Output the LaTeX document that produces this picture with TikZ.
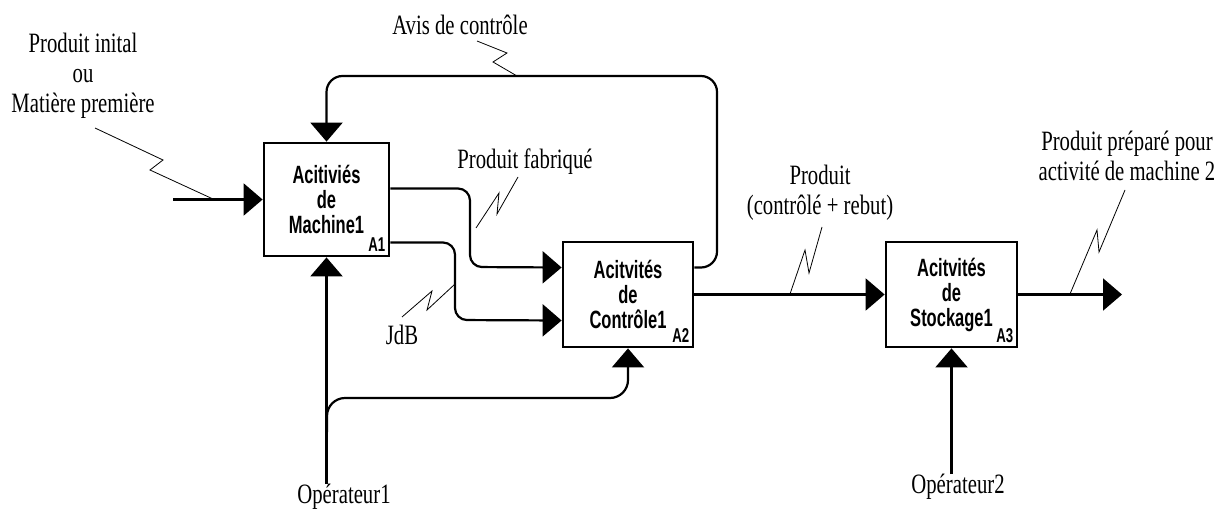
\documentclass[tikz,border=0pt]{standalone}
\usepackage{fontspec}
\setmainfont{Liberation Serif}[FakeStretch=0.74]
\newfontfamily\boxfont{Liberation Sans}[FakeStretch=0.66]
\usepackage{tikz}
\usetikzlibrary{arrows.meta}

\begin{document}
\begin{tikzpicture}[
    x=1pt, y=-1pt,
    box/.style={draw, line width=2.8pt, inner sep=0pt, align=center,
        font=\boxfont\bfseries\fontsize{25}{25}\selectfont},
    sub/.style={inner sep=0pt, anchor=base east,
        font=\boxfont\bfseries\fontsize{20}{20}\selectfont},
    lbl/.style={inner sep=0pt, align=center, font=\fontsize{28}{30}\selectfont},
    flow/.style={line width=2.2pt, -{Triangle[length=19pt,width=32pt]}},
    leader/.style={line width=0.8pt}
]
\useasboundingbox (0,0) rectangle (1222,511);

% activity boxes
\node[box, minimum width=125pt, minimum height=113pt] (A1) at (326.5,199.5) {Acitiviés\\de\\Machine1};
\node[sub] (A1n) at ([xshift=-5pt,yshift=6pt]A1.south east) {A1};
\node[box, minimum width=130pt, minimum height=105pt] (A2) at (628,294.5) {Acitvités\\de\\Contrôle1};
\node[sub] (A2n) at ([xshift=-5pt,yshift=6pt]A2.south east) {A2};
\node[box, minimum width=131pt, minimum height=105pt] (A3) at (951.5,294.5) {Acitvités\\de\\Stockage1};
\node[sub] (A3n) at ([xshift=-5pt,yshift=6pt]A3.south east) {A3};

% labels
\node[lbl] (Pi) at (83,76) {Produit inital\\ou\\Matière première};
\node[lbl] (Avis) at (460,25) {Avis de contrôle};
\node[lbl] (PF) at (525,162) {Produit fabriqué};
\node[lbl] (JdB) at (402,335) {JdB};
\node[lbl] (Op1) at (344,497) {Opérateur1};
\node[lbl] (Pcr) at (820,193) {Produit\\(contrôlé + rebut)};
\node[lbl] (Ppp) at (1127,156) {Produit préparé pour\\activité de machine 2};
\node[lbl] (Op2) at (958,487) {Opérateur2};

\coordinate (in1) at (173,199.5);
\coordinate (out3) at (1122,294.5);
\coordinate (j1) at (327,432);

% arrows
\draw[flow] (in1) -- (A1.west);
\draw[flow, rounded corners=12pt] ([yshift=11pt]A1.east) -| (470,267) -- ([yshift=27pt]A2.west);
\draw[flow, rounded corners=12pt] ([yshift=-43pt]A1.east) -| (455,320) -- ([yshift=-26pt]A2.west);
\draw[flow, rounded corners=16pt] ([yshift=27pt]A2.east) -| (717,76) -| (A1.north);
\draw[flow] (A2.east) -- (A3.west);
\draw[flow] (A3.east) -- (out3);
\draw[flow] (Op1.north -| A1.south) -- (A1.south);
\draw[flow, rounded corners=18pt] (j1) |- (628,398) -- (A2.south);
\draw[flow] (Op2.north -| A3.south) -- (A3.south);

% zigzag leaders
\draw[leader] (95,128) -- (163,160) -- (150,170) -- (213,199);
\draw[leader] (477,41) -- (507,53) -- (493,62) -- (517,76);
\draw[leader] (518,177) -- (497,214) -- (499,193) -- (476,228);
\draw[leader] (402,317) -- (432,291) -- (427,310) -- (455,284);
\draw[leader] (822,227) -- (809,273) -- (805,250) -- (790,294);
\draw[leader] (1125,190) -- (1099,252) -- (1097,230) -- (1070,294);
\end{tikzpicture}
\end{document}
